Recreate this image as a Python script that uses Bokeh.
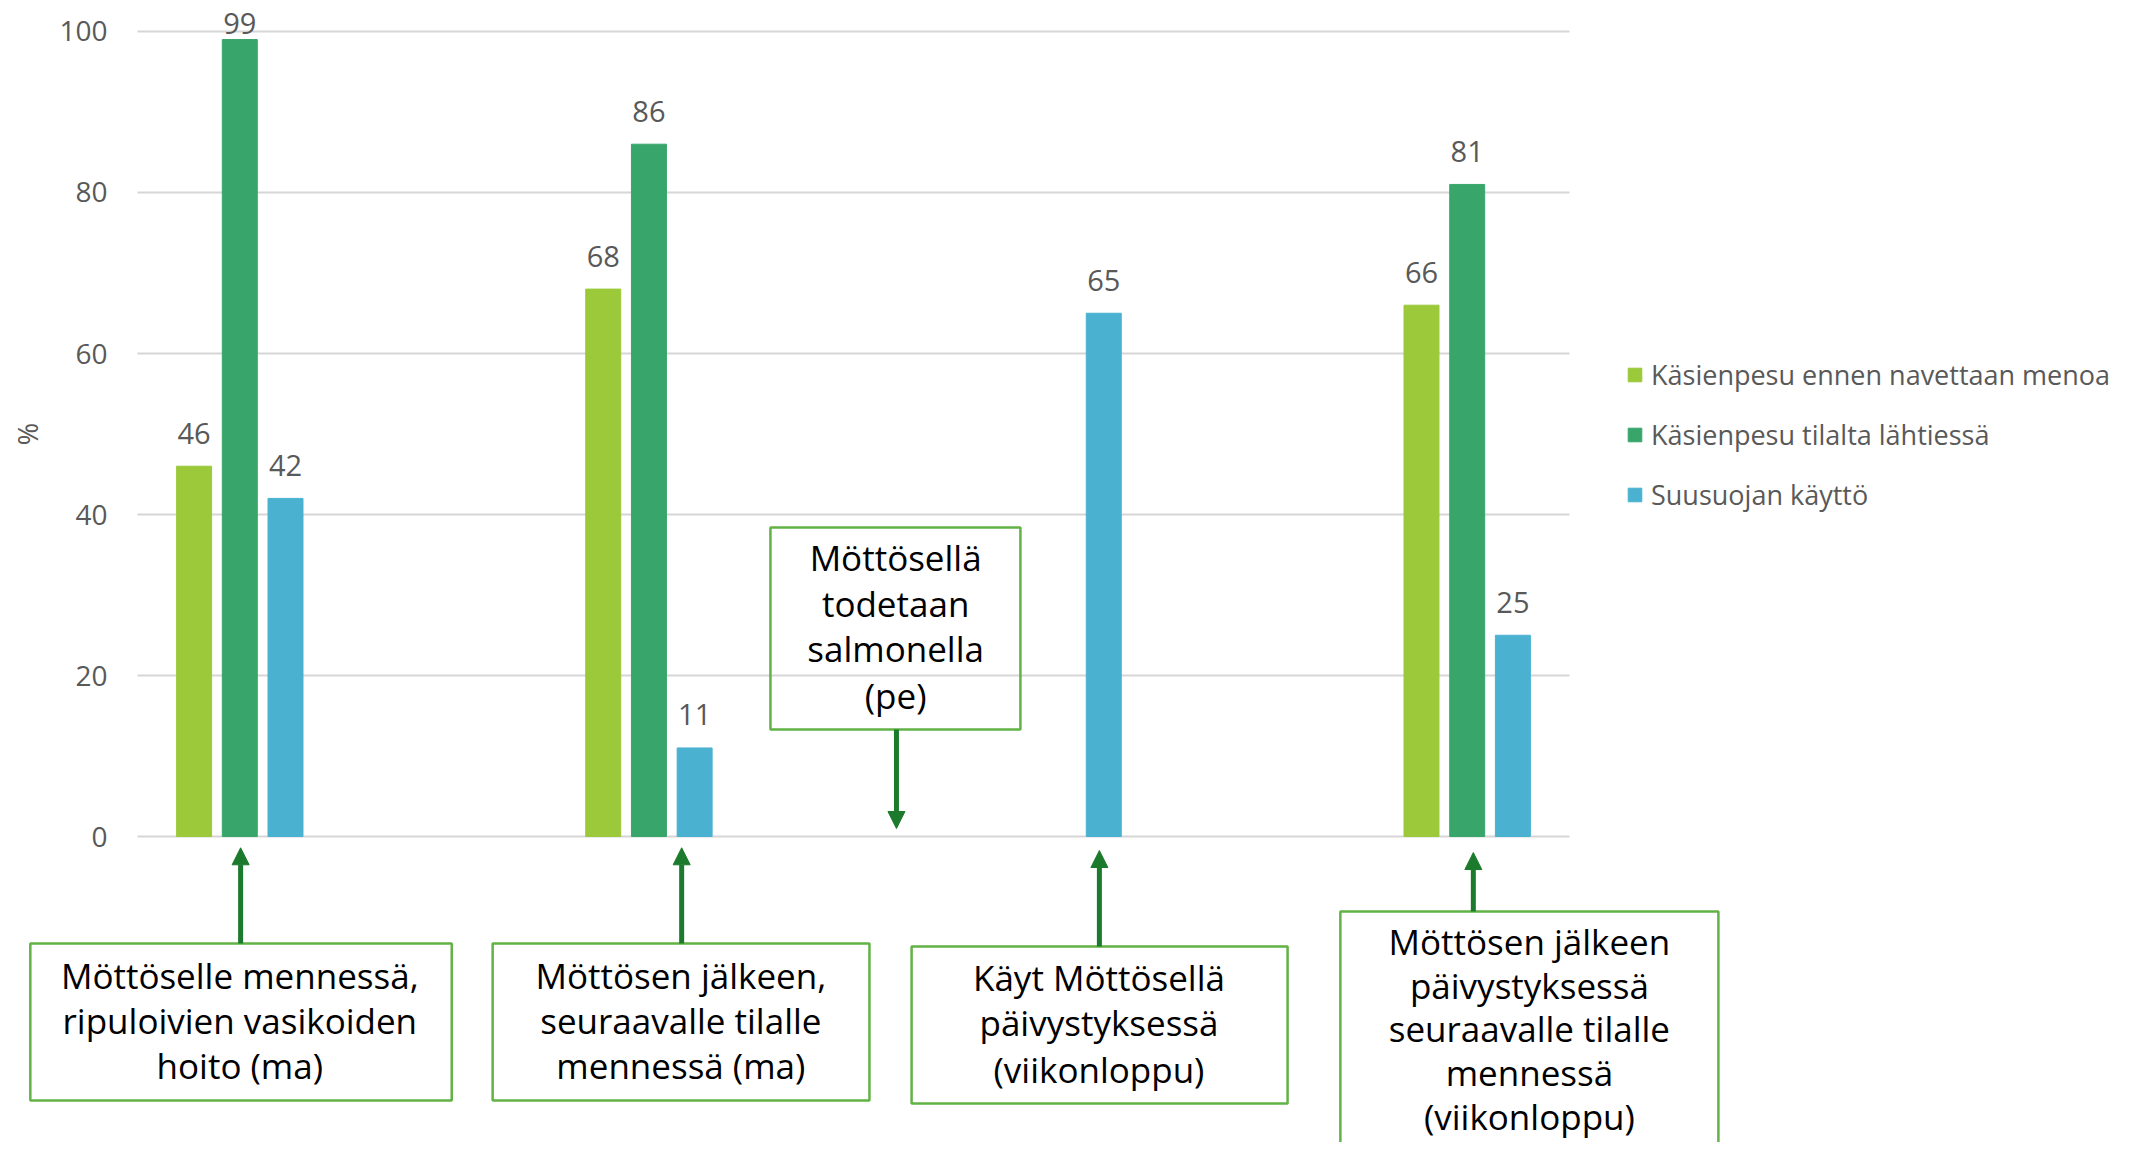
from math import pi, isnan
from bokeh.plotting import figure
from bokeh.models import (ColumnDataSource, Range1d, Legend, LegendItem, Label,
                          Arrow, NormalHead, BoxAnnotation, FixedTicker, LinearAxis)
from bokeh.embed import file_html
from bokeh.resources import INLINE
from bokeh.core.properties import value

# ---------------- data ----------------
group_pos = [0, 1, 2, 3]
series_names = ["Käsienpesu ennen navettaan menoa",
                "Käsienpesu tilalta lähtiessä",
                "Suusuojan käyttö"]
hand_before = [46, 68, float("nan"), 66]
hand_leaving = [99, 86, float("nan"), 81]
mask_use = [42, 11, 65, 25]
y_ticks = [0, 20, 40, 60, 80, 100]

box_texts = [
    ["Möttöselle mennessä,", "ripuloivien vasikoiden", "hoito (ma)"],
    ["Möttösen jälkeen,", "seuraavalle tilalle", "mennessä (ma)"],
    ["Käyt Möttösellä", "päivystyksessä", "(viikonloppu)"],
    ["Möttösen jälkeen", "päivystyksessä", "seuraavalle tilalle", "mennessä", "(viikonloppu)"],
    ["Möttösellä", "todetaan", "salmonella", "(pe)"],
]

# ---------------- style / layout ----------------
colors = ["#9BC93A", "#38A66B", "#4BB1D0"]
offsets = [-0.1117, 0.0, 0.1117]
bar_w = 0.0855
grey = "#595959"
font = "Open Sans"
box_line = "#62B246"
arrow_col = "#1C7A2C"
x_lo, x_hi = -0.25, 3.25          # extent of the category area / gridlines
label_cap = 96.9                  # value labels never go above the top gridline

# box layout in data units: left, right, top, bottom, text x, baselines, arrow x, arrow y0, arrow y1
box_layout = [
    (-0.512, 0.518, -13.3, -32.8, 0.0, [-17.3, -22.9, -28.5], 0.002, -13.3, -1.4),
    (0.618, 1.539, -13.3, -32.8, 1.078, [-17.3, -22.9, -28.5], 1.080, -13.3, -1.4),
    (1.642, 2.561, -13.66, -33.17, 2.100, [-17.5, -23.1, -28.9], 2.101, -13.66, -1.74),
    (2.690, 3.614, -9.32, -45.0, 3.152, [-13.0, -18.45, -23.9, -29.35, -34.8], 3.015, -9.32, -1.99),
    (1.297, 1.908, 38.39, 13.29, 1.603, [34.6, 29.0, 23.4, 17.5], 1.605, 13.29, 0.99),
]

p = figure(width=2113, height=1142,
           x_range=Range1d(-0.5849, 4.5797), y_range=Range1d(-38.01, 103.85),
           output_backend="svg", toolbar_location=None,
           x_axis_location=None, y_axis_location=None, title=None,
           min_border_left=0, min_border_right=0,
           min_border_top=0, min_border_bottom=0)
p.outline_line_color = None
p.background_fill_color = "white"
p.border_fill_color = "white"
p.xgrid.visible = False
p.ygrid.visible = False

# horizontal gridlines limited to the category area
p.segment(x0=[x_lo] * len(y_ticks), x1=[x_hi] * len(y_ticks), y0=y_ticks, y1=y_ticks,
          line_color="#D6D6D6", line_width=2)

# y axis placed at the left edge of the category area
yax = LinearAxis(ticker=FixedTicker(ticks=y_ticks), fixed_location=x_lo)
yax.axis_line_color = None
yax.major_tick_line_color = None
yax.minor_tick_line_color = None
yax.major_label_standoff = 24
yax.major_label_text_font = font
yax.major_label_text_font_size = "28px"
yax.major_label_text_color = grey
p.add_layout(yax, "left")

legend_items = []
for name, vals, off, col in zip(series_names, [hand_before, hand_leaving, mask_use], offsets, colors):
    xs = [g + off for g, v in zip(group_pos, vals) if not isnan(v)]
    ys = [v for v in vals if not isnan(v)]
    src = ColumnDataSource(dict(x=xs, top=ys, ly=[min(v, label_cap) for v in ys],
                                lab=[str(int(v)) for v in ys]))
    r = p.vbar(x="x", top="top", bottom=0, width=bar_w, source=src,
               fill_color=col, line_color=col, line_width=1)
    p.text(x="x", y="ly", text="lab", source=src, y_offset=-33,
           text_align="center", text_baseline="alphabetic",
           text_font=value(font), text_font_size="29px", text_color=grey)
    legend_items.append(LegendItem(label=name, renderers=[r]))

legend = Legend(items=legend_items, location=(1626, 629),
                orientation="vertical", padding=0, margin=0,
                border_line_color=None, background_fill_alpha=0,
                glyph_width=17, glyph_height=17, label_height=37,
                spacing=23, label_standoff=8,
                label_text_font=font, label_text_font_size="27px",
                label_text_color=grey)
p.add_layout(legend)

# "%" axis title
p.add_layout(Label(x=-0.519, y=50, text="%", angle=pi / 2,
                   text_align="center", text_baseline="middle",
                   text_font=font, text_font_size="27px", text_color=grey))

# annotation boxes, texts and arrows
for lines, (l, r_, t, b, tx, bls, axx, ay0, ay1) in zip(box_texts, box_layout):
    p.add_layout(BoxAnnotation(left=l, right=r_, top=t, bottom=b,
                               fill_alpha=0, line_color=box_line, line_width=2.5,
                               line_alpha=1))
    for line, bl in zip(lines, bls):
        p.add_layout(Label(x=tx, y=bl, text=line, text_align="center",
                           text_baseline="alphabetic", text_font=font,
                           text_font_size="35px", text_color="black"))
    p.add_layout(Arrow(x_start=axx, y_start=ay0, x_end=axx, y_end=ay1,
                       line_color=arrow_col, line_width=5,
                       end=NormalHead(size=17, fill_color=arrow_col,
                                      line_color=arrow_col, line_width=1)))

open("out.html", "w").write(file_html(p, INLINE))
